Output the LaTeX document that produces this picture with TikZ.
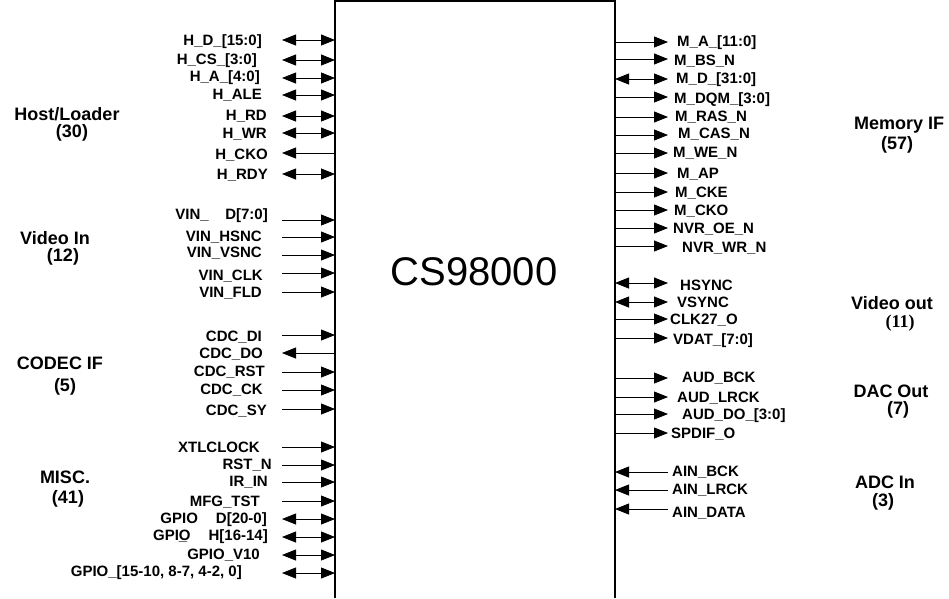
\documentclass[tikz,border=0pt]{standalone}
\usepackage{fontspec}
\setmainfont{Liberation Sans}
\newfontfamily\serifbf{Liberation Serif}
\usetikzlibrary{arrows.meta}
\tikzset{
    pinlbl/.style={font=\fontsize{15}{15}\selectfont\bfseries,inner sep=0pt},
    grplbl/.style={font=\fontsize{18}{18}\selectfont\bfseries,inner sep=0pt},
    sigline/.style={line width=.8pt},
    chipline/.style={line width=1.2pt},
}
\begin{document}
\begin{tikzpicture}[x=1pt,y=-1pt,>={Triangle[length=14pt,width=11pt]}]
    \useasboundingbox (0,0) rectangle (949,598);
    % chip outline, open at the bottom
    \coordinate (chipL) at (335,0);
    \coordinate (chipR) at (615,0);
    \draw[chipline] (335,598)--(335,1)--(615,1)--(615,598);
    \node[font=\fontsize{40}{40}\selectfont,inner sep=0pt] (chip) at (474,272) {CS98000};
    % left pins: arrow y / label right x / label y / text / direction
    \foreach \y/\xr/\ly/\txt/\dir [count=\i] in {
        40/262/42/H\_D\_[15:0]/<->, 60/257/61/H\_CS\_[3:0]/<->,
        78/260/78/H\_A\_[4:0]/<->, 95/262/95/H\_ALE/<->,
        116/267/116/H\_RD/<->, 133/267/134/H\_WR/<->,
        153/268/155/H\_CKO/<-, 174/268/175/H\_RDY/<->,
        220/268/216/VIN\_\hspace{1.1em}D[7:0]/->, 237/262/237/VIN\_HSNC/->,
        255/262/253/VIN\_VSNC/->, 273/263/276/VIN\_CLK/->,
        292/262/293/VIN\_FLD/->,
        335/262/337/CDC\_DI/->, 353/263/354/CDC\_DO/<-,
        372/265/372/CDC\_RST/->, 390/263/390/CDC\_CK/->,
        409/267/411/CDC\_SY/->,
        447/260/447/XTLCLOCK/->, 465/272/465/RST\_N/->,
        482/268/482/IR\_IN/->, 501/260/502/MFG\_TST/->,
        519/267/520/GPIO\hspace{1.2em}D[20-0]/<->,
        537/268/537/GPI\rlap{\_}O\hspace{1.2em}H[16-14]/<->,
        555/260/555/GPIO\_V10/<->,
        573/242/573/{GPIO\_[15-10, 8-7, 4-2, 0]}/<->}
    {
        \node[pinlbl,anchor=east] (l\i) at (\xr,\ly) {\txt};
        \coordinate (p\i) at (282,\y);
        \draw[sigline,\dir] (p\i)--(p\i -| chipL);
    }
    % right pins: arrow y / label left x / label y / text / direction
    \foreach \y/\xl/\ly/\txt/\dir [count=\i] in {
        42/677/43/M\_A\_[11:0]/->, 59/674/61/M\_BS\_N/->,
        79/676/80/M\_D\_[31:0]/<->, 97/674/100/M\_DQM\_[3:0]/->,
        117/675/117/M\_RAS\_N/->, 135/678/134/M\_CAS\_N/->,
        153/673/153/M\_WE\_N/->, 173/677/174/M\_AP/->,
        192/675/193/M\_CKE/->, 210/674/211/M\_CKO/->,
        228/673/229/NVR\_OE\_N/->, 246/682/248/NVR\_WR\_N/->,
        283/680/285/HSYNC/<->, 302/677/302/VSYNC/<->,
        319/670/320/CLK27\_O/->, 338/673/341/VDAT\_[7:0]/->,
        378/682/378/AUD\_BCK/->, 397/677/398/AUD\_LRCK/->,
        414/682/416/AUD\_DO\_[3:0]/->, 433/671/434/SPDIF\_O/->,
        472/672/472/AIN\_BCK/<-, 490/672/490/AIN\_LRCK/<-,
        509/672/513/AIN\_DATA/<-}
    {
        \node[pinlbl,anchor=west] (r\i) at (\xl,\ly) {\txt};
        \coordinate (q\i) at (668,\y);
        \draw[sigline,\dir] (q\i -| chipR)--(q\i);
    }
    % interface groups
    \node[grplbl] (host) at (67,114) {Host/Loader};
    \node[grplbl] (hostn) at (72,133) {(30)};
    \node[grplbl] (vin) at (55,238) {Video In};
    \node[grplbl] (vinn) at (63,257) {(12)};
    \node[grplbl] (codec) at (60,363) {CODEC IF};
    \node[grplbl] (codecn) at (65,387) {(5)};
    \node[grplbl] (misc) at (65,477) {MISC.};
    \node[grplbl] (miscn) at (68,499) {(41)};
    \node[grplbl] (mem) at (899,125) {Memory IF};
    \node[grplbl] (memn) at (897,145) {(57)};
    \node[grplbl] (vout) at (892,303) {Video out};
    \node[grplbl,font=\fontsize{18}{18}\selectfont\serifbf\bfseries] (voutn) at (900,323) {(11)};
    \node[grplbl] (dac) at (891,391) {DAC Out};
    \node[grplbl] (dacn) at (898,410) {(7)};
    \node[grplbl] (adc) at (885,482) {ADC In};
    \node[grplbl] (adcn) at (883,502) {(3)};
\end{tikzpicture}
\end{document}
